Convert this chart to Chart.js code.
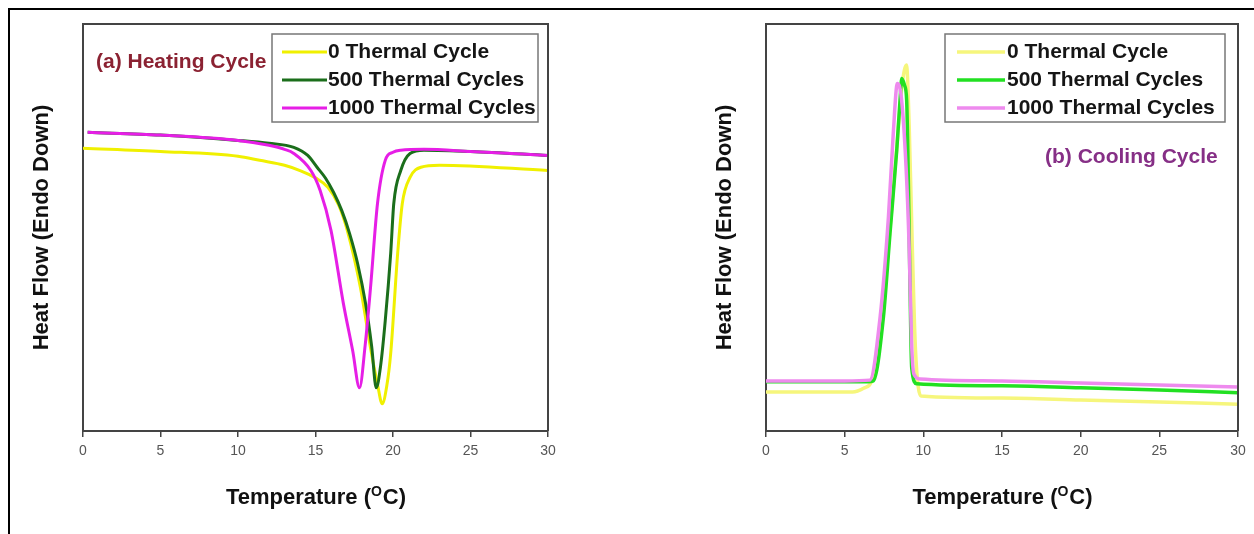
<!DOCTYPE html>
<html>
<head>
<meta charset="utf-8">
<script src="https://cdn.jsdelivr.net/npm/chart.js@4.4.1/dist/chart.umd.min.js"></script>
<style>
  html, body { margin: 0; padding: 0; background: #fff; overflow: hidden; }
  body { width: 1254px; height: 534px; position: relative; }
  #frame { position: absolute; left: 8px; top: 8px; width: 1300px; height: 600px; border: 2px solid #000; }
  canvas { position: absolute; top: 0; }
  #heating { left: 0; }
  #cooling { left: 627px; }
</style>
</head>
<body>
<div id="frame"></div>
<canvas id="heating" width="627" height="534" style="width:627px;height:534px"></canvas>
<canvas id="cooling" width="627" height="534" style="width:627px;height:534px"></canvas>
<script>
const xTicks = [0, 5, 10, 15, 20, 25, 30];
const seriesLabels = ["0 Thermal Cycle", "500 Thermal Cycles", "1000 Thermal Cycles"];

/* ---------- (a) heating : temperature (C) / heat flow (a.u., endo down) ---------- */
const heatT0 = [0, 5, 10, 11.4, 13, 14.0, 15.0, 15.8, 16.5, 17.05, 17.9, 18.55, 19.0, 19.3, 19.6, 19.85, 20.3, 20.6, 21.1, 21.8, 23, 30];
const heatY0 = [6.95, 6.87, 6.75, 6.65, 6.53, 6.40, 6.22, 5.99, 5.55, 4.93, 3.52, 2.04, 1.15, 0.67, 1.11, 1.90, 4.36, 5.59, 6.23, 6.48, 6.53, 6.40];
const heatT500 = [0.3, 5, 10, 12, 13.6, 14.5, 15.1, 15.65, 16.17, 16.69, 17.2, 17.72, 18.23, 18.62, 18.92, 19.2, 19.5, 19.85, 20.05, 20.5, 21.1, 22, 25, 30];
const heatY500 = [7.34, 7.27, 7.14, 7.07, 6.97, 6.77, 6.48, 6.21, 5.86, 5.42, 4.85, 4.11, 3.13, 2.09, 1.06, 1.60, 2.71, 4.36, 5.59, 6.40, 6.82, 6.90, 6.87, 6.77];
const heatT1000 = [0.3, 5, 10, 12, 13, 13.6, 14.7, 15.3, 16.0, 16.8, 17.4, 17.84, 18.2, 18.55, 19.0, 19.5, 20.0, 20.5, 22, 25, 30];
const heatY1000 = [7.34, 7.27, 7.14, 7.02, 6.92, 6.82, 6.40, 5.91, 4.93, 3.13, 1.97, 1.06, 2.09, 3.52, 5.59, 6.65, 6.85, 6.90, 6.92, 6.87, 6.77];

/* ---------- (b) cooling ---------- */
const coolT0 = [0, 5.5, 6.2, 6.8, 7.3, 7.8, 8.3, 8.65, 8.93, 9.1, 9.3, 9.5, 9.85, 15, 20, 25, 30];
const coolY0 = [0.96, 0.96, 1.05, 1.30, 2.60, 4.60, 6.90, 8.50, 8.99, 7.50, 4.50, 2.00, 0.86, 0.81, 0.76, 0.71, 0.66];
const coolT500 = [0, 6.5, 6.82, 7.46, 7.88, 8.31, 8.52, 8.63, 8.8, 8.94, 9.05, 9.15, 9.26, 9.58, 15, 20, 25, 30];
const coolY500 = [1.21, 1.21, 1.23, 2.79, 4.85, 6.90, 8.13, 8.66, 8.50, 8.13, 6.08, 3.62, 1.56, 1.16, 1.11, 1.06, 1.01, 0.94];
const coolT1000 = [0, 5, 6.6, 7.25, 7.78, 8.09, 8.35, 8.6, 8.9, 9.1, 9.25, 9.4, 9.8, 15, 20, 25, 30];
const coolY1000 = [1.23, 1.23, 1.25, 2.79, 5.25, 7.32, 8.54, 8.20, 6.50, 4.50, 2.20, 1.40, 1.28, 1.23, 1.18, 1.13, 1.08];

const heatColors = ["#f0f000", "#1b6e1b", "#e61ee6"];
const coolColors = ["#f6f67c", "#22e022", "#ee8aee"];

const FONT = '"Liberation Sans", Arial, sans-serif';

function pts(xs, ys) {
  return xs.map((x, i) => ({ x: x, y: ys[i] }));
}

function makeDatasets(series, colors, width) {
  return series.map((s, i) => ({
    label: seriesLabels[i],
    data: pts(s[0], s[1]),
    borderColor: colors[i],
    borderWidth: width,
    pointRadius: 0,
    fill: false,
    cubicInterpolationMode: "monotone",
    order: 2 - i
  }));
}

/* frame top/right, boxed legend, panel label, x title with superscript */
const decor = {
  id: "decor",
  afterDraw(chart, args, o) {
    const ctx = chart.ctx, a = chart.chartArea;
    ctx.save();
    ctx.strokeStyle = "#444";
    ctx.lineWidth = 2;
    ctx.beginPath();
    ctx.moveTo(a.left, a.top);
    ctx.lineTo(a.right, a.top);
    ctx.lineTo(a.right, a.bottom);
    ctx.stroke();

    const lb = o.legend;
    ctx.strokeStyle = "#777";
    ctx.lineWidth = 1.5;
    ctx.strokeRect(lb.x, lb.y, lb.w, lb.h);
    ctx.font = "bold 21px " + FONT;
    ctx.textBaseline = "middle";
    chart.data.datasets.forEach((ds, i) => {
      const y = lb.rows[i];
      ctx.strokeStyle = ds.borderColor;
      ctx.lineWidth = ds.borderWidth;
      ctx.beginPath();
      ctx.moveTo(lb.sx, y);
      ctx.lineTo(lb.sx + lb.sw, y);
      ctx.stroke();
      ctx.fillStyle = "#151515";
      ctx.fillText(ds.label, lb.tx, y);
    });

    ctx.fillStyle = o.label.color;
    ctx.fillText(o.label.text, o.label.x, o.label.y);

    // Temperature (°C) with a raised O
    ctx.textBaseline = "alphabetic";
    ctx.fillStyle = "#111";
    const big = "bold 22px " + FONT, small = "bold 14px " + FONT;
    ctx.font = big;
    const w1 = ctx.measureText("Temperature (").width;
    const w3 = ctx.measureText("C)").width;
    ctx.font = small;
    const w2 = ctx.measureText("O").width;
    let x = (a.left + a.right) / 2 - (w1 + w2 + w3) / 2;
    const base = 504;
    ctx.font = big;
    ctx.fillText("Temperature (", x, base);
    ctx.font = small;
    ctx.fillText("O", x + w1, base - 8);
    ctx.font = big;
    ctx.fillText("C)", x + w1 + w2 + 1, base);
    ctx.restore();
  }
};

function makeChart(id, datasets, padLeft, padRight, decorOpts) {
  return new Chart(document.getElementById(id), {
    type: "line",
    data: { datasets: datasets },
    plugins: [decor],
    options: {
      responsive: false,
      animation: false,
      events: [],
      layout: { padding: { left: padLeft, right: padRight, top: 24, bottom: 0 } },
      plugins: { legend: { display: false }, tooltip: { enabled: false }, decor: decorOpts },
      scales: {
        x: {
          type: "linear",
          min: 0,
          max: 30,
          afterBuildTicks: (scale) => { scale.ticks = xTicks.map(v => ({ value: v })); },
          afterFit: (scale) => { scale.height = 103; },
          ticks: { color: "#555", padding: 6, font: { size: 14, family: FONT } },
          grid: { drawOnChartArea: false, tickLength: 6, color: "#444", lineWidth: 1.5 },
          border: { color: "#444", width: 2 }
        },
        y: {
          min: 0,
          max: 10,
          afterFit: (scale) => { scale.width = 83; },
          ticks: { display: false },
          grid: { display: false },
          border: { color: "#444", width: 2 },
          title: {
            display: true,
            text: "Heat Flow (Endo Down)",
            color: "#111",
            font: { size: 22, weight: "bold", family: FONT },
            padding: { top: 29, bottom: 0 }
          }
        }
      }
    }
  });
}

makeChart("heating",
  makeDatasets([[heatT0, heatY0], [heatT500, heatY500], [heatT1000, heatY1000]], heatColors, 3),
  0, 79,
  {
    legend: { x: 272, y: 34, w: 266, h: 88, sx: 282, sw: 45, tx: 328, rows: [52, 80, 108] },
    label: { text: "(a) Heating Cycle", color: "#8b2232", x: 96, y: 62 }
  });

makeChart("cooling",
  makeDatasets([[coolT0, coolY0], [coolT500, coolY500], [coolT1000, coolY1000]], coolColors, 3.5),
  56, 16,
  {
    legend: { x: 318, y: 34, w: 280, h: 88, sx: 330, sw: 48, tx: 380, rows: [52, 80, 108] },
    label: { text: "(b) Cooling Cycle", color: "#862f86", x: 418, y: 157 }
  });
</script>
</body>
</html>
